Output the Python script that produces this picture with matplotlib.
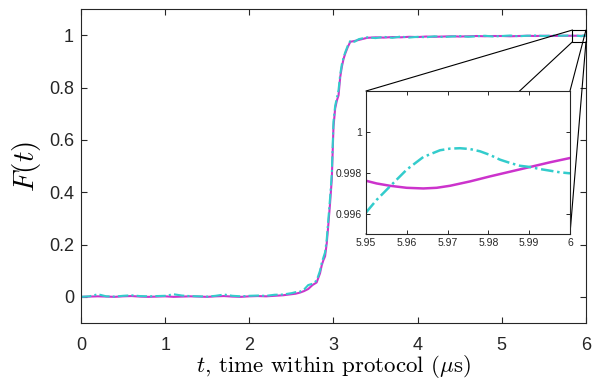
import matplotlib
matplotlib.use("Agg")
import matplotlib.pyplot as plt
from matplotlib.patches import Rectangle, ConnectionPatch

# ---------------- data ----------------
t_low = [0.0, 0.1, 0.2, 0.3, 0.4, 0.5, 0.6, 0.7, 0.8, 0.9, 1.0, 1.1, 1.2, 1.3,
         1.4, 1.5, 1.6, 1.7, 1.8, 1.9, 2.0, 2.1, 2.2, 2.3, 2.4, 2.5]
mag_low = [0.000, 0.001, 0.002, 0.001, 0.000, 0.002, 0.003, 0.001, 0.000, 0.001,
           0.002, 0.000, 0.001, 0.002, 0.001, 0.000, 0.002, 0.003, 0.001, 0.000,
           0.002, 0.003, 0.002, 0.004, 0.006, 0.010]
cyan_low = [0.000, 0.002, 0.010, 0.002, 0.001, 0.004, 0.006, 0.003, 0.002, 0.003,
            0.004, 0.010, 0.005, 0.003, 0.002, 0.001, 0.004, 0.009, 0.004, 0.002,
            0.004, 0.005, 0.004, 0.008, 0.009, 0.014]

t_step = [2.55, 2.6, 2.65, 2.7, 2.75, 2.8, 2.84, 2.86, 2.88, 2.9, 2.92, 2.94,
          2.96, 2.98, 3.0, 3.02, 3.04, 3.06, 3.08, 3.1, 3.12, 3.14, 3.17, 3.2,
          3.25, 3.3]
mag_step = [0.012, 0.016, 0.022, 0.030, 0.045, 0.055, 0.090, 0.120, 0.140, 0.155,
            0.205, 0.280, 0.360, 0.450, 0.650, 0.720, 0.750, 0.770, 0.840, 0.880,
            0.910, 0.930, 0.955, 0.975, 0.978, 0.982]
cyan_step = [0.018, 0.020, 0.028, 0.045, 0.050, 0.062, 0.100, 0.130, 0.150, 0.170,
             0.220, 0.300, 0.380, 0.470, 0.670, 0.730, 0.760, 0.790, 0.850, 0.890,
             0.915, 0.935, 0.960, 0.978, 0.975, 0.985]

t_high = [3.4, 3.5, 3.6, 3.7, 3.8, 3.9, 4.0, 4.1, 4.2, 4.3, 4.4, 4.5, 4.6,
          4.7, 4.8, 4.9, 5.0, 5.1, 5.2, 5.3, 5.4, 5.5, 5.6, 5.7, 5.8, 5.9]
mag_high = [0.990, 0.992, 0.991, 0.993, 0.992, 0.994, 0.993, 0.995, 0.994, 0.995,
            0.996, 0.995, 0.996, 0.997, 0.996, 0.997, 0.997, 0.996, 0.997, 0.998,
            0.997, 0.998, 0.997, 0.998, 0.998, 0.998]
cyan_high = [0.992, 0.989, 0.994, 0.990, 0.995, 0.991, 0.994, 0.992, 0.996, 0.993,
             0.995, 0.997, 0.994, 0.996, 0.998, 0.995, 0.997, 0.999, 0.996, 0.998,
             0.999, 0.997, 0.999, 0.998, 0.999, 0.998]

# zoomed tail (inset)
t_mag_zoom = [5.95, 5.95261, 5.95588, 5.95997, 5.96405, 5.96732, 5.97059,
              5.97549, 5.98039, 5.98529, 5.99020, 5.99510, 6.0]
mag_zoom = [0.997607, 0.997475, 0.997361, 0.997262, 0.997230, 0.997262, 0.997361,
            0.997574, 0.997820, 0.998050, 0.998280, 0.998510, 0.998720]
t_cyan_zoom = [5.95, 5.95261, 5.95588, 5.95997, 5.96405, 5.96814, 5.97059,
               5.97304, 5.97549, 5.97794, 5.98039, 5.98284, 5.98529, 5.98775,
               5.99020, 5.99265, 5.99510, 5.99755, 6.0]
cyan_zoom = [0.99605, 0.99667, 0.99733, 0.99815, 0.99877, 0.99910, 0.99918,
             0.99920, 0.99916, 0.99905, 0.99887, 0.99864, 0.99848, 0.99834,
             0.99828, 0.99818, 0.99810, 0.99802, 0.99797]

x_ticks = [0, 1, 2, 3, 4, 5, 6]
y_ticks = [0, 0.2, 0.4, 0.6, 0.8, 1]
y_ticklabels = ["0", "0.2", "0.4", "0.6", "0.8", "1"]
xin_ticks = [5.95, 5.96, 5.97, 5.98, 5.99, 6]
xin_ticklabels = ["5.95", "5.96", "5.97", "5.98", "5.99", "6"]
yin_ticks = [0.996, 0.998, 1.0]
yin_ticklabels = ["0.996", "0.998", "1"]

# ---------------- style ----------------
MAG = "#cc33cc"
CYN = "#33cccc"
AXC = "#262626"
DASHDOT = (0, (5, 1.5, 1, 1.5))
plt.rcParams["font.family"] = ["Liberation Sans", "DejaVu Sans"]
plt.rcParams["mathtext.fontset"] = "cm"

fig = plt.figure(figsize=(5.92, 3.81), dpi=100)
ax = fig.add_axes([0.1368, 0.1522, 0.853, 0.824])

t_all_mag = t_low + t_step + t_high + t_mag_zoom
f_all_mag = mag_low + mag_step + mag_high + mag_zoom
t_all_cyan = t_low + t_step + t_high + t_cyan_zoom
f_all_cyan = cyan_low + cyan_step + cyan_high + cyan_zoom

ax.plot(t_all_mag, f_all_mag, color=MAG, lw=1.5, solid_joinstyle="round")
ax.plot(t_all_cyan, f_all_cyan, color=CYN, lw=1.5, linestyle=DASHDOT)

ax.set_xlim(0, 6)
ax.set_ylim(-0.1, 1.1)
ax.set_xticks(x_ticks)
ax.set_yticks(y_ticks)
ax.set_yticklabels(y_ticklabels)
ax.tick_params(direction="in", top=True, right=True, labelsize=13,
               colors=AXC, length=4, width=0.8)
ax.tick_params(axis="x", pad=10)
ax.tick_params(axis="y", pad=5)
for s in ax.spines.values():
    s.set_color(AXC)
    s.set_linewidth(0.8)

ax.set_xlabel(r"$t$, time within protocol ($\mu$s)", fontsize=16.5,
              color="black", labelpad=-1, family=["cmr10", "DejaVu Serif"])
ax.set_ylabel(r"$F(t)$", fontsize=21, color="black", labelpad=4)

# zoom rectangle
rx0, ry0, rw, rh = 5.84, 0.975, 0.16, 0.045
ax.add_patch(Rectangle((rx0, ry0), rw, rh, fill=False, ec="black", lw=0.8,
                       clip_on=False, zorder=5))

# inset
axins = fig.add_axes([0.6182, 0.3858, 0.3446, 0.3753])
axins.plot(t_mag_zoom, mag_zoom, color=MAG, lw=1.8)
axins.plot(t_cyan_zoom, cyan_zoom, color=CYN, lw=1.8, linestyle=DASHDOT)
axins.set_xlim(5.95, 6)
axins.set_ylim(0.995, 1.002)
axins.set_xticks(xin_ticks)
axins.set_xticklabels(xin_ticklabels)
axins.set_yticks(yin_ticks)
axins.set_yticklabels(yin_ticklabels)
axins.tick_params(direction="in", top=True, right=True, labelsize=7.5,
                  colors=AXC, length=3, width=0.7, pad=3)
for s in axins.spines.values():
    s.set_color(AXC)
    s.set_linewidth(0.8)

ax.set_zorder(1)
axins.set_zorder(3)

# connector lines (rect corners -> inset corners), under the inset
corners = [((rx0, ry0 + rh), (0, 1)), ((rx0, ry0), (0, 0)),
           ((rx0 + rw, ry0 + rh), (1, 1)), ((rx0 + rw, ry0), (1, 0))]
for (pa, pb) in corners:
    cp = ConnectionPatch(xyA=pa, coordsA=ax.transData, xyB=pb,
                         coordsB=axins.transAxes, color="black", lw=0.8)
    cp.set_zorder(2)
    fig.add_artist(cp)

fig.savefig("out.png", dpi=100)
